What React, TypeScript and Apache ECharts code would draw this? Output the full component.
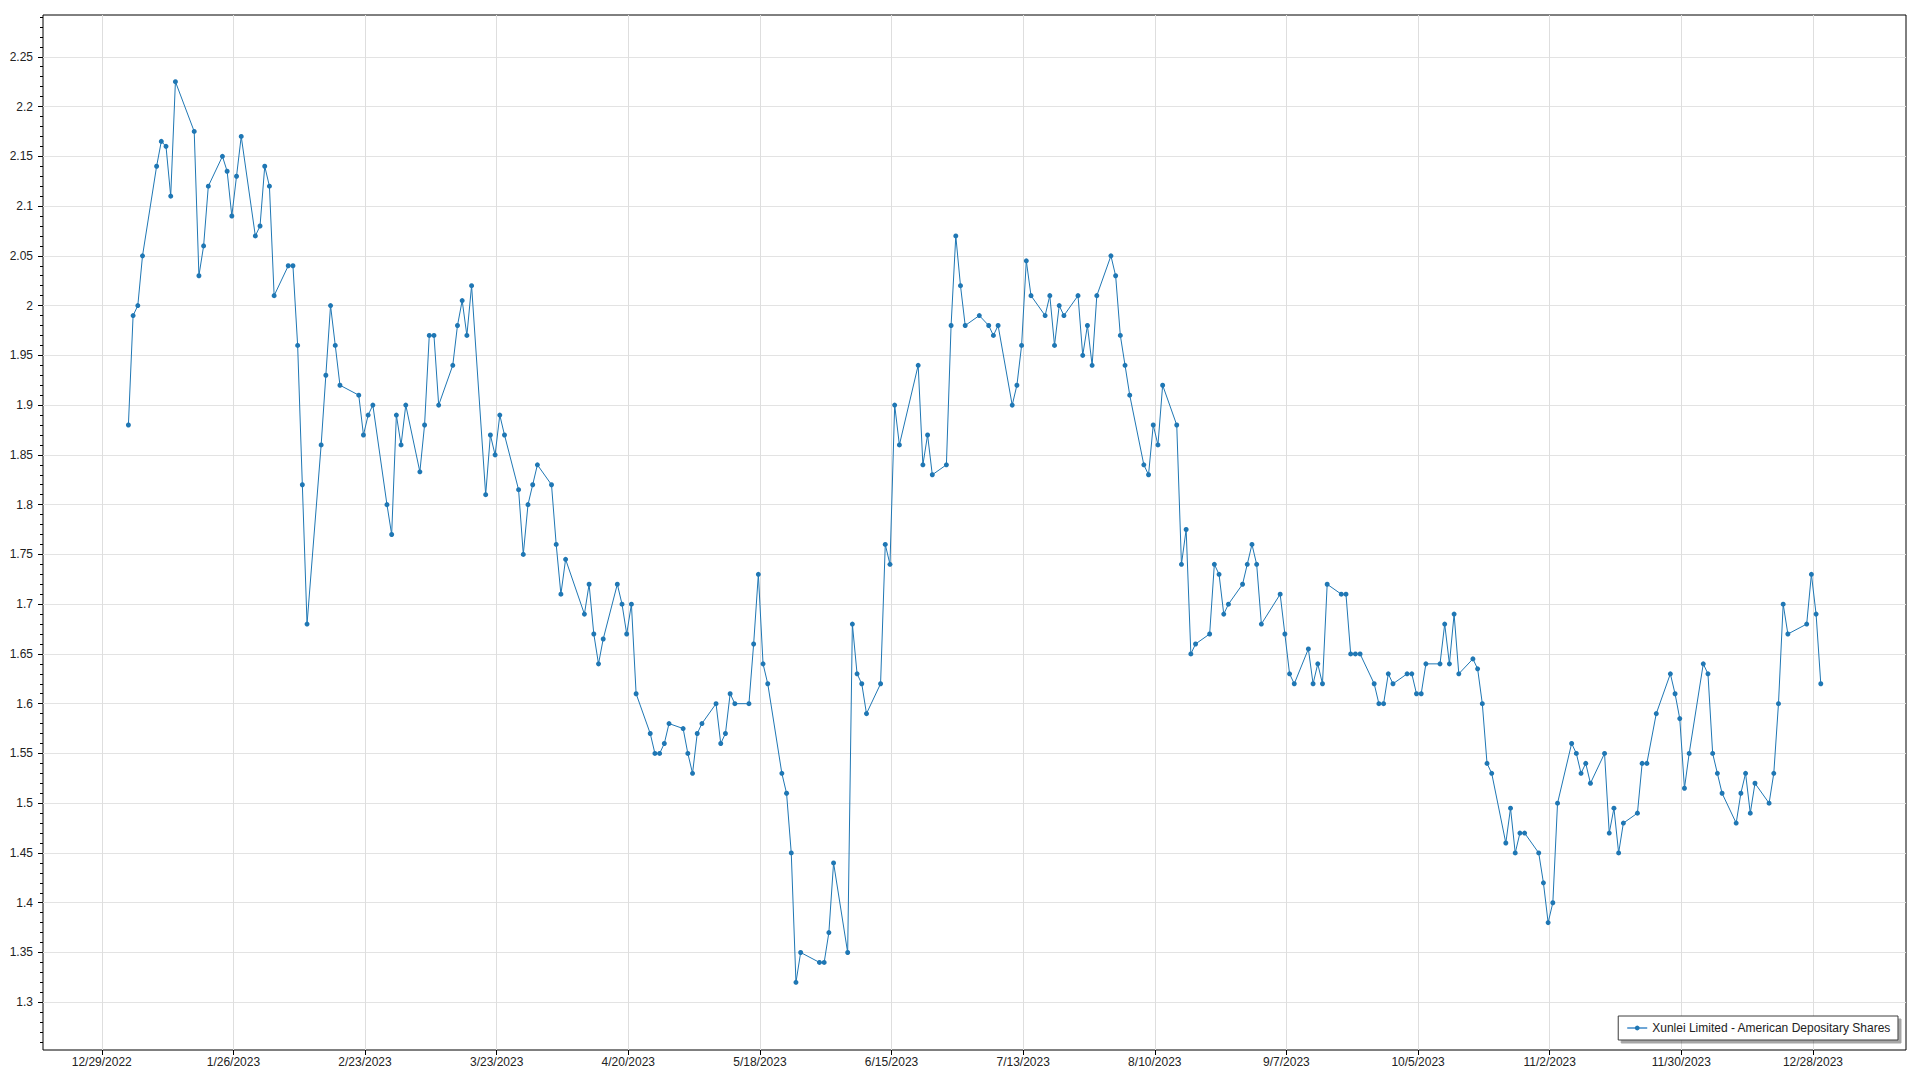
import React, { useEffect, useRef } from "react";
import * as echarts from "echarts";

const SERIES_NAME = "Xunlei Limited - American Depositary Shares";
const YEAR = 2023;
const CLOSE_HOUR = 16;

const JAN_DAYS = [3, 4, 5, 6, 9, 10, 11, 12, 13, 17, 18, 19, 20, 23, 24, 25, 26, 27, 30, 31];
const JAN_CLOSE = [1.88, 1.99, 2.0, 2.05, 2.14, 2.165, 2.16, 2.11, 2.225, 2.175, 2.03, 2.06, 2.12, 2.15, 2.135, 2.09, 2.13, 2.17, 2.07, 2.08];

const FEB_DAYS = [1, 2, 3, 6, 7, 8, 9, 10, 13, 14, 15, 16, 17, 21, 22, 23, 24, 27, 28];
const FEB_CLOSE = [2.14, 2.12, 2.01, 2.04, 2.04, 1.96, 1.82, 1.68, 1.86, 1.93, 2.0, 1.96, 1.92, 1.91, 1.87, 1.89, 1.9, 1.8, 1.77];

const MAR_DAYS = [1, 2, 3, 6, 7, 8, 9, 10, 13, 14, 15, 16, 17, 20, 21, 22, 23, 24, 27, 28, 29, 30, 31];
const MAR_CLOSE = [1.89, 1.86, 1.9, 1.833, 1.88, 1.97, 1.97, 1.9, 1.94, 1.98, 2.005, 1.97, 2.02, 1.81, 1.87, 1.85, 1.89, 1.87, 1.815, 1.75, 1.8, 1.82, 1.84];

const APR_DAYS = [3, 4, 5, 6, 10, 11, 12, 13, 14, 17, 18, 19, 20, 21, 24, 25, 26, 27, 28];
const APR_CLOSE = [1.82, 1.76, 1.71, 1.745, 1.69, 1.72, 1.67, 1.64, 1.665, 1.72, 1.7, 1.67, 1.7, 1.61, 1.57, 1.55, 1.55, 1.56, 1.58];

const MAY_DAYS = [1, 2, 3, 4, 5, 8, 9, 10, 11, 12, 15, 16, 17, 18, 19, 22, 23, 24, 25, 26, 30, 31];
const MAY_CLOSE = [1.575, 1.55, 1.53, 1.57, 1.58, 1.6, 1.56, 1.57, 1.61, 1.6, 1.6, 1.66, 1.73, 1.64, 1.62, 1.53, 1.51, 1.45, 1.32, 1.35, 1.34, 1.34];

const JUN_DAYS = [1, 2, 5, 6, 7, 8, 9, 12, 13, 14, 15, 16, 20, 21, 22, 23, 26, 27, 28, 29, 30];
const JUN_CLOSE = [1.37, 1.44, 1.35, 1.68, 1.63, 1.62, 1.59, 1.62, 1.76, 1.74, 1.9, 1.86, 1.94, 1.84, 1.87, 1.83, 1.84, 1.98, 2.07, 2.02, 1.98];

const JUL_DAYS = [3, 5, 6, 7, 10, 11, 12, 13, 14, 17, 18, 19, 20, 21, 24, 25, 26, 27, 28, 31];
const JUL_CLOSE = [1.99, 1.98, 1.97, 1.98, 1.9, 1.92, 1.96, 2.045, 2.01, 1.99, 2.01, 1.96, 2.0, 1.99, 2.01, 1.95, 1.98, 1.94, 2.01, 2.05];

const AUG_DAYS = [1, 2, 3, 4, 7, 8, 9, 10, 11, 14, 15, 16, 17, 18, 21, 22, 23, 24, 25, 28, 29, 30, 31];
const AUG_CLOSE = [2.03, 1.97, 1.94, 1.91, 1.84, 1.83, 1.88, 1.86, 1.92, 1.88, 1.74, 1.775, 1.65, 1.66, 1.67, 1.74, 1.73, 1.69, 1.7, 1.72, 1.74, 1.76, 1.74];

const SEP_DAYS = [1, 5, 6, 7, 8, 11, 12, 13, 14, 15, 18, 19, 20, 21, 22, 25, 26, 27, 28, 29];
const SEP_CLOSE = [1.68, 1.71, 1.67, 1.63, 1.62, 1.655, 1.62, 1.64, 1.62, 1.72, 1.71, 1.71, 1.65, 1.65, 1.65, 1.62, 1.6, 1.6, 1.63, 1.62];

const OCT_DAYS = [2, 3, 4, 5, 6, 9, 10, 11, 12, 13, 16, 17, 18, 19, 20, 23, 24, 25, 26, 27, 30, 31];
const OCT_CLOSE = [1.63, 1.63, 1.61, 1.61, 1.64, 1.64, 1.68, 1.64, 1.69, 1.63, 1.645, 1.635, 1.6, 1.54, 1.53, 1.46, 1.495, 1.45, 1.47, 1.47, 1.45, 1.42];

const NOV_DAYS = [1, 2, 3, 6, 7, 8, 9, 10, 13, 14, 15, 16, 17, 20, 21, 22, 24, 27, 28, 29, 30];
const NOV_CLOSE = [1.38, 1.4, 1.5, 1.56, 1.55, 1.53, 1.54, 1.52, 1.55, 1.47, 1.495, 1.45, 1.48, 1.49, 1.54, 1.54, 1.59, 1.63, 1.61, 1.585, 1.515];

const DEC_DAYS = [1, 4, 5, 6, 7, 8, 11, 12, 13, 14, 15, 18, 19, 20, 21, 22, 26, 27, 28, 29];
const DEC_CLOSE = [1.55, 1.64, 1.63, 1.55, 1.53, 1.51, 1.48, 1.51, 1.53, 1.49, 1.52, 1.5, 1.53, 1.6, 1.7, 1.67, 1.68, 1.73, 1.69, 1.62];

const X_TICK_LABELS = [
  "12/29/2022", "1/26/2023", "2/23/2023", "3/23/2023", "4/20/2023", "5/18/2023", "6/15/2023",
  "7/13/2023", "8/10/2023", "9/7/2023", "10/5/2023", "11/2/2023", "11/30/2023", "12/28/2023",
];
const Y_TICKS = [1.3, 1.35, 1.4, 1.45, 1.5, 1.55, 1.6, 1.65, 1.7, 1.75, 1.8, 1.85, 1.9, 1.95, 2.0, 2.05, 2.1, 2.15, 2.2, 2.25];

const Y_MIN = 1.252;
const Y_MAX = 2.292;

const FONT = "'Segoe UI', 'Liberation Sans', Arial, sans-serif";
const LINE_COLOR = "#1f77b4";

function parseMDY(s: string): number {
  const [m, d, y] = s.split("/").map(Number);
  return Date.UTC(y, m - 1, d);
}

function fmtDate(v: number): string {
  const dt = new Date(v);
  return `${dt.getUTCMonth() + 1}/${dt.getUTCDate()}/${dt.getUTCFullYear()}`;
}

const MONTHS: [number[], number[]][] = [
  [JAN_DAYS, JAN_CLOSE], [FEB_DAYS, FEB_CLOSE], [MAR_DAYS, MAR_CLOSE], [APR_DAYS, APR_CLOSE],
  [MAY_DAYS, MAY_CLOSE], [JUN_DAYS, JUN_CLOSE], [JUL_DAYS, JUL_CLOSE], [AUG_DAYS, AUG_CLOSE],
  [SEP_DAYS, SEP_CLOSE], [OCT_DAYS, OCT_CLOSE], [NOV_DAYS, NOV_CLOSE], [DEC_DAYS, DEC_CLOSE],
];

export default function App() {
  const ref = useRef<HTMLDivElement>(null);

  useEffect(() => {
    if (!ref.current) return;
    const chart = echarts.init(ref.current, null, { renderer: "svg" });

    const data: [number, number][] = [];
    MONTHS.forEach(([days, vals], m) => {
      days.forEach((d, i) => data.push([Date.UTC(YEAR, m, d, CLOSE_HOUR), vals[i]]));
    });

    const xTicks = X_TICK_LABELS.map(parseMDY);
    const X_MIN = Date.UTC(2022, 11, 16, 12);
    const X_MAX = Date.UTC(2024, 0, 16, 19);

    const yMinor: number[] = [];
    for (let k = 126; k <= 229; k++) {
      if (k % 5 !== 0) yMinor.push(k / 100);
    }

    chart.setOption({
      animation: false,
      backgroundColor: "#ffffff",
      textStyle: { fontFamily: FONT },
      grid: {
        left: 43,
        right: 14,
        top: 15,
        bottom: 30,
        show: true,
        borderColor: "#000000",
        borderWidth: 1,
        backgroundColor: "transparent",
      },
      xAxis: {
        type: "value",
        min: X_MIN,
        max: X_MAX,
        axisLine: { show: false },
        axisTick: { show: true, customValues: xTicks, length: 5, lineStyle: { color: "#000" } },
        axisLabel: {
          customValues: xTicks,
          formatter: (v: number) => fmtDate(v),
          margin: 6,
          color: "#222",
          fontSize: 12,
          fontFamily: FONT,
        },
        splitLine: { show: true, lineStyle: { color: "#dedede", width: 1 } },
      },
      yAxis: [
        {
          type: "value",
          min: Y_MIN,
          max: Y_MAX,
          axisLine: { show: false },
          axisTick: { show: true, customValues: Y_TICKS, length: 5, lineStyle: { color: "#000" } },
          axisLabel: {
            customValues: Y_TICKS,
            formatter: (v: number) => String(Number(v.toFixed(2))),
            margin: 10,
            color: "#222",
            fontSize: 12,
            fontFamily: FONT,
          },
          splitLine: { show: true, lineStyle: { color: "#e3e3e3", width: 1 } },
        },
        {
          type: "value",
          min: Y_MIN,
          max: Y_MAX,
          position: "left",
          axisLine: { show: false },
          axisTick: { show: true, customValues: yMinor, length: 3, lineStyle: { color: "#000" } },
          axisLabel: { show: false },
          splitLine: { show: false },
        },
      ],
      legend: {
        right: 22,
        top: 1016,
        padding: [6, 7, 6, 8],
        itemWidth: 20,
        itemHeight: 6,
        backgroundColor: "#ffffff",
        borderColor: "#3c3c3c",
        borderWidth: 1,
        borderRadius: 0,
        shadowColor: "rgba(0,0,0,0.35)",
        shadowOffsetX: 3,
        shadowOffsetY: 3,
        shadowBlur: 0,
        lineStyle: { width: 2, color: "#6ea6d6" },
        textStyle: { fontSize: 12, color: "#222", fontFamily: FONT },
        data: [SERIES_NAME],
      },
      series: [
        {
          type: "line",
          name: SERIES_NAME,
          data,
          yAxisIndex: 0,
          symbol: "circle",
          symbolSize: 5,
          itemStyle: { color: LINE_COLOR },
          lineStyle: { width: 1, color: LINE_COLOR },
          emphasis: { disabled: true },
        },
      ],
    });

    return () => chart.dispose();
  }, []);

  return (
    <div
      ref={ref}
      style={{ position: "fixed", left: 0, top: 0, width: 1920, height: 1080, background: "#fff" }}
    />
  );
}
